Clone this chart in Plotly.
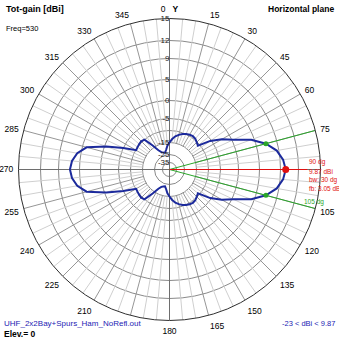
import numpy as np
import plotly.graph_objects as go

# Horizontal-plane total gain, one value every 5 degrees (0 = +Y, clockwise)
AZIMUTH_DEG = list(range(0, 360, 5))
GAIN_DBI = [
    -15.0, -13.5, -12.2, -11.3, -10.5, -9.9, -9.5, -9.3, -9.5, -10.2, -10.8, -5.5,
    -2.4, 0.3, 4.3, 6.87, 8.6, 9.5, 9.87, 9.5, 8.6, 6.87, 4.3, 0.3,
    -2.4, -5.5, -10.8, -10.2, -9.5, -9.3, -9.5, -9.9, -10.5, -11.3, -12.2, -13.5,
    -15.0, -17.5, -21.0, -23.0, -22.5, -21.5, -19.0, -14.0, -10.0, -9.6, -9.8, -10.0,
    -10.2, -5.0, -0.5, 4.0, 5.7, 6.5, 6.82, 6.5, 5.7, 4.0, -0.5, -5.0,
    -10.2, -10.0, -9.8, -9.6, -10.0, -14.0, -19.0, -21.5, -22.5, -23.0, -21.0, -17.5,
]

PEAK_AZ = 90
PEAK_DBI = 9.87
BEAMWIDTH_DEG = 30
FRONT_BACK_DB = 3.05
FREQ_MHZ = 530
ELEVATION_DEG = 0
FILE_NAME = "UHF_2x2Bay+Spurs_Ham_NoRefl.out"

RING_DB = [12, 9, 5, 0, -5, -10, -15, -25, -35]
RING_LABEL_DB = [15, 12, 9, 5, 0, -5, -15, -25, -35]
ANGLE_TICKS = list(range(0, 360, 15))
HIDDEN_ANGLE_LABELS = [PEAK_AZ, 195]  # covered by the cursor text / file name

# Compressed-log radial scale (dB -> fraction of outer ring, 15 dBi at the rim)
SCALE_DB = [-45, -35, -25, -15, -5, 0, 5, 9, 12, 15]
SCALE_PX = [0, 7, 15, 27, 51, 69, 90, 111, 129, 151]
SCALE_RHO = [p / SCALE_PX[-1] for p in SCALE_PX]


def rho(db):
    return np.interp(db, SCALE_DB, SCALE_RHO)


FONT = "Liberation Sans"
PATTERN_COLOR = "#1c2a9c"
RED = "#e01010"
GREEN = "#2aa52a"

fig = go.Figure()

# radial spokes: light every 5 deg, darker every 15 deg, starting at the -15 dB ring
r_in = float(rho(-15))
light_r, light_t, dark_r, dark_t = [], [], [], []
for a in range(0, 360, 5):
    if a % 90 == 0:
        continue
    if a % 15 == 0:
        dark_r += [r_in, 1, None]
        dark_t += [a, a, None]
    else:
        light_r += [r_in, 1, None]
        light_t += [a, a, None]
fig.add_trace(go.Scatterpolar(r=light_r, theta=light_t, mode="lines",
                              line=dict(color="#cfcfcf", width=1), hoverinfo="skip"))
fig.add_trace(go.Scatterpolar(r=dark_r, theta=dark_t, mode="lines",
                              line=dict(color="#969696", width=1), hoverinfo="skip"))

# main X / Y axes through the centre
ax_r, ax_t = [], []
for a in (0, 90, 180, 270):
    ax_r += [0, 1, None]
    ax_t += [a, a, None]
fig.add_trace(go.Scatterpolar(r=ax_r, theta=ax_t, mode="lines",
                              line=dict(color="#6e6e6e", width=1), hoverinfo="skip"))

# radiation pattern
fig.add_trace(go.Scatterpolar(
    r=list(rho(GAIN_DBI)) + [float(rho(GAIN_DBI[0]))],
    theta=AZIMUTH_DEG + [AZIMUTH_DEG[0]],
    mode="lines", line=dict(color=PATTERN_COLOR, width=2), hoverinfo="skip"))

# half-power cursors
half_az = [PEAK_AZ - BEAMWIDTH_DEG / 2, PEAK_AZ + BEAMWIDTH_DEG / 2]
half_db = PEAK_DBI - 3
fig.add_trace(go.Scatterpolar(
    r=[0, 1, None, 0, 1], theta=[half_az[0], half_az[0], None, half_az[1], half_az[1]],
    mode="lines", line=dict(color=GREEN, width=1), hoverinfo="skip"))
fig.add_trace(go.Scatterpolar(
    r=[float(rho(half_db))] * 2, theta=half_az, mode="markers",
    marker=dict(color=GREEN, size=5), hoverinfo="skip"))

# peak cursor
fig.add_trace(go.Scatterpolar(
    r=[0, float(rho(13.2))], theta=[PEAK_AZ, PEAK_AZ], mode="lines",
    line=dict(color=RED, width=1), hoverinfo="skip"))
fig.add_trace(go.Scatterpolar(
    r=[float(rho(PEAK_DBI))], theta=[PEAK_AZ], mode="markers",
    marker=dict(color=RED, size=7), hoverinfo="skip"))

# radial ring labels along the 0 deg axis
fig.add_trace(go.Scatterpolar(
    r=list(rho(RING_LABEL_DB)), theta=[0] * len(RING_LABEL_DB), mode="text",
    text=[str(v) for v in RING_LABEL_DB], textposition="middle left",
    textfont=dict(family=FONT, size=8, color="#202020"), hoverinfo="skip"))

ticktext = []
for a in ANGLE_TICKS:
    if a == 0:
        ticktext.append("0\u00a0\u00a0\u00a0<b>Y</b>")
    elif a in HIDDEN_ANGLE_LABELS:
        ticktext.append("")
    else:
        ticktext.append(str(a))

W = H = 339
R_PX = SCALE_PX[-1]
CX = 169.5
d0, d1 = (CX - R_PX) / W, (CX + R_PX) / W

fig.update_layout(
    width=W, height=H, margin=dict(l=0, r=0, t=0, b=0),
    paper_bgcolor="white", showlegend=False,
    polar=dict(
        domain=dict(x=[d0, d1], y=[d0, d1]),
        bgcolor="white",
        angularaxis=dict(rotation=90, direction="clockwise", tickmode="array",
                         tickvals=ANGLE_TICKS, ticktext=ticktext, showgrid=False,
                         showline=True, linecolor="#303030", linewidth=1,
                         ticks="outside", ticklen=3, tickcolor="rgba(0,0,0,0)",
                         tickfont=dict(family=FONT, size=8.5, color="black")),
        radialaxis=dict(range=[0, 1], tickmode="array",
                        tickvals=[float(rho(v)) for v in RING_DB],
                        showticklabels=False, ticks="", showline=False,
                        gridcolor="#8a8a8a", gridwidth=1),
    ),
)


def px_note(text, x, y, color="black", size=8, bold=False, xanchor="left"):
    if bold:
        text = f"<b>{text}</b>"
    fig.add_annotation(text=text, x=x / W, y=1 - y / H, xref="paper", yref="paper",
                       xanchor=xanchor, yanchor="middle", showarrow=False,
                       font=dict(family=FONT, size=size, color=color))


px_note("Tot-gain [dBi]", 4, 9, size=9, bold=True)
px_note(f"Freq={FREQ_MHZ}", 4, 28, size=7.5)
px_note("Horizontal plane", 336, 9, size=8.5, bold=True, xanchor="right")
px_note(FILE_NAME, 2, 323, color="#2323b4", size=8)
px_note(f"Elev.= {ELEVATION_DEG}", 2, 334, size=8.5, bold=True)
px_note(f"{min(GAIN_DBI):g} < dBi < {max(GAIN_DBI):g}", 337, 323, color="#2323b4",
        size=7.5, xanchor="right")

px_note(f"{PEAK_AZ} dg", 307, 162, color=RED, size=6.5)
px_note(f"{PEAK_DBI} dBi", 307, 171, color=RED, size=6.5)
px_note(f"bw: {BEAMWIDTH_DEG} dg", 307, 180, color=RED, size=6.5)
px_note(f"fb: {FRONT_BACK_DB} dB", 307, 188.5, color=RED, size=6.5)
px_note(f"{int(half_az[1])} dg", 302, 201.5, color=GREEN, size=6.5)

fig.write_html("out.html", config={"displayModeBar": False})
